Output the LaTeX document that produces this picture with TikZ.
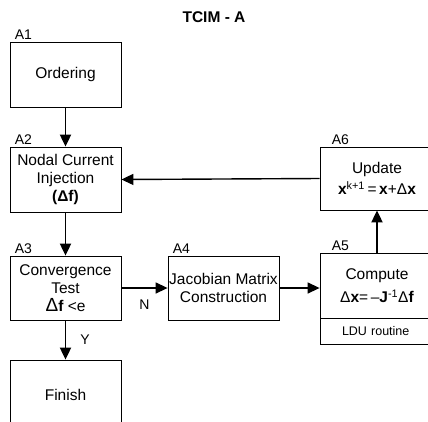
\documentclass[tikz,border=0pt]{standalone}
\usepackage{fontspec}
\setmainfont{Liberation Sans}
\usetikzlibrary{arrows.meta}

\begin{document}
\begin{tikzpicture}
  [x=1pt, y=-1pt,
   every node/.style={font=\fontsize{15.5}{18}\selectfont, align=center, inner sep=0pt},
   block/.style={draw, line width=0.8pt, minimum width=111pt},
   tag/.style={anchor=south west, font=\fontsize{14}{16}\selectfont, xshift=5pt, yshift=2pt},
   flow/.style={line width=1.9pt, -{Triangle[length=12pt,width=11pt]}},
   hflow/.style={flow, line width=1.4pt}]
  \clip (0,0) rectangle (428,421);
  \node (title) at (214,17) {\bfseries TCIM - A};
  \node [block, minimum height=65pt] (a1) at (65.5,74.5) {Ordering};
  \node [block, minimum height=65pt] (a2) at (65.5,179.5) {Nodal Current\\Injection\\\textbf{(Δf)}};
  \node [block, minimum height=64pt] (a3) at (65.5,288) {Convergence\\Test\\{\fontsize{19}{18}\selectfont Δ}\textbf{f} <e};
  \node [block, minimum height=70pt] (fin) at (65.5,395) {Finish};
  \node [block, minimum height=64pt] (a4) at (223.5,288) {Jacobian Matrix\\Construction};
  \node [block, minimum width=114pt, minimum height=65pt] (a5) at (377,285.5)
    {Compute\\[5pt]Δ\textbf{x}=\,--\textbf{J}\textsuperscript{-1}Δ\textbf{f}};
  \node [block, minimum width=114pt, minimum height=26pt, text width=70pt, align=left,
    font=\fontsize{12.5}{14}\selectfont] (ldu) at (377,331) {LDU routine};
  \node [block, minimum width=114pt, minimum height=63pt] (a6) at (377,178.5)
    {Update\\[3pt]\textbf{x}\textsuperscript{k+1}\,=\,\textbf{x}+Δ\textbf{x}};
  % block tags
  \node [tag] at (a1.north west) {A1};
  \node [tag] at (a2.north west) {A2};
  \node [tag] at (a3.north west) {A3};
  \node [tag] at (a4.north west) {A4};
  \node [tag, xshift=7pt] at (a5.north west) {A5};
  \node [tag, xshift=7pt] at (a6.north west) {A6};
  % flow
  \draw [flow] (a1.south) -- (a2.north);
  \draw [flow] (a2.south) -- (a3.north);
  \draw [flow] (a3.south) -- node [right=14pt, font=\fontsize{14}{16}\selectfont] (yes) {Y} (fin.north);
  \draw [hflow] (a3.east) -- node [below=11pt, font=\fontsize{14}{16}\selectfont] (no) {N} (a4.west);
  \draw [hflow] (a4.east) -- (a4.east -| a5.west);
  \draw [flow] (a5.north) -- (a6.south);
  \draw [hflow] (a6.west) -- (a2.east);
\end{tikzpicture}
\end{document}
